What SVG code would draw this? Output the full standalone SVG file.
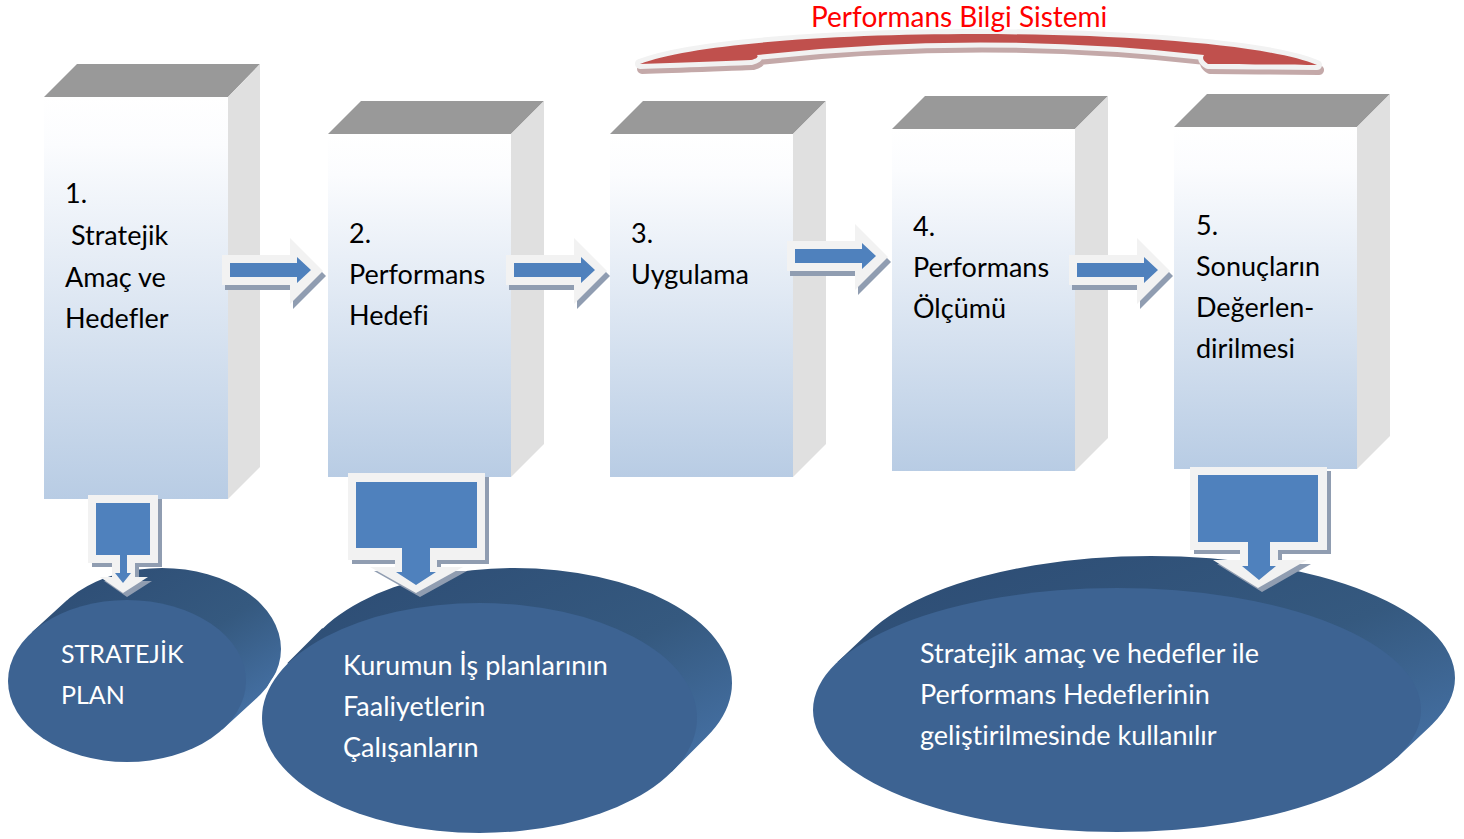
<svg xmlns="http://www.w3.org/2000/svg" width="1464" height="839" viewBox="0 0 1464 839">
<defs>
<linearGradient id="gFront" x1="0" y1="0" x2="0" y2="1">
<stop offset="0" stop-color="#ffffff"/>
<stop offset="0.12" stop-color="#fbfcfe"/>
<stop offset="1" stop-color="#b8cce4"/>
</linearGradient>
<linearGradient id="gBack" x1="0" y1="0" x2="1" y2="1">
<stop offset="0" stop-color="#2c4b73"/>
<stop offset="0.55" stop-color="#35597f"/>
<stop offset="1" stop-color="#4a78b0"/>
</linearGradient>
<style>
text{font-variant-ligatures:none}
.top{fill:#999999}
.side{fill:#e0e0e0}
.front{fill:url(#gFront)}
.lbl{font-family:Lato,"Liberation Sans",sans-serif;font-size:27px;fill:#000000}
.wl{font-family:Lato,"Liberation Sans",sans-serif;font-size:27px;fill:#ffffff}
.ttl{font-family:Lato,"Liberation Sans",sans-serif;font-size:28px;fill:#ff0000}
.aw{fill:#f2f2f2}
.as{fill:#909db1}
.ab{fill:#4f81bd}
.eb{fill:url(#gBack)}
.ef{fill:#3d6392}
.halo{fill:#ffffff;stroke:#ffffff;stroke-width:5}
</style>
<g id="harrow">
<path class="as" transform="translate(3,5)" d="M222,255 H290 V238 L323,271 L290,304 V285 H222 Z"/>
<path class="aw" d="M222,255 H290 V238 L323,271 L290,304 V285 H222 Z"/>
<path class="ab" d="M230,263 H297 V257 L311,270 L297,283 V277 H230 Z"/>
</g>
</defs>

<!-- Top curved ribbon and title -->
<g id="bilgi-sistemi">
<path transform="translate(2,5)" fill="#b89797" stroke="#c4a9a9" stroke-width="10" stroke-linejoin="round" d="M640,64 C740,24 1220,24 1317,65 C1290,65 1240,64 1208,64 C1203,61 1202,58 1204,55 Q980,30 757,55 C759,57 756,59 751,60 C720,61 680,63 640,64 Z"/>
<path fill="#c0504d" stroke="#f2f2f2" stroke-width="10" stroke-linejoin="round" paint-order="stroke" d="M640,64 C740,24 1220,24 1317,65 C1290,65 1240,64 1208,64 C1203,61 1202,58 1204,55 Q980,30 757,55 C759,57 756,59 751,60 C720,61 680,63 640,64 Z"/>
<text class="ttl" x="811" y="27">Performans Bilgi Sistemi</text>
</g>

<!-- Boxes -->
<g id="box1">
<polygon class="top" points="44,97 77,64 260,64 228,97"/>
<polygon class="side" points="228,97 260,64 260,467 228,499"/>
<rect class="front" x="44" y="97" width="184" height="402"/>
<text class="lbl" x="65" y="203">1.</text>
<text class="lbl" x="71" y="245">Stratejik</text>
<text class="lbl" x="65" y="287">Amaç ve</text>
<text class="lbl" x="65" y="328">Hedefler</text>
</g>
<g id="box2">
<polygon class="top" points="328,134 361,101 544,101 511,134"/>
<polygon class="side" points="511,134 544,101 544,444 511,477"/>
<rect class="front" x="328" y="134" width="183" height="343"/>
<text class="lbl" x="349" y="243">2.</text>
<text class="lbl" x="349" y="284">Performans</text>
<text class="lbl" x="349" y="325">Hedefi</text>
</g>
<g id="box3">
<polygon class="top" points="610,134 643,101 826,101 793,134"/>
<polygon class="side" points="793,134 826,101 826,444 793,477"/>
<rect class="front" x="610" y="134" width="183" height="343"/>
<text class="lbl" x="631" y="243">3.</text>
<text class="lbl" x="631" y="284">Uygulama</text>
</g>
<g id="box4">
<polygon class="top" points="892,129 925,96 1108,96 1075,129"/>
<polygon class="side" points="1075,129 1108,96 1108,438 1075,471"/>
<rect class="front" x="892" y="129" width="183" height="342"/>
<text class="lbl" x="913" y="236">4.</text>
<text class="lbl" x="913" y="277">Performans</text>
<text class="lbl" x="913" y="318">Ölçümü</text>
</g>
<g id="box5">
<polygon class="top" points="1174,127 1207,94 1390,94 1357,127"/>
<polygon class="side" points="1357,127 1390,94 1390,436 1357,469"/>
<rect class="front" x="1174" y="127" width="183" height="342"/>
<text class="lbl" x="1196" y="235">5.</text>
<text class="lbl" x="1196" y="276">Sonuçların</text>
<text class="lbl" x="1196" y="317">Değerlen-</text>
<text class="lbl" x="1196" y="358">dirilmesi</text>
</g>

<!-- Ellipses -->
<g id="ellipse1">
<path class="eb" d="M222.4,729.4 L257.4,697.4 L66.6,600.6 L31.6,632.6 Z M43,649 A119,81 0 1,0 281,649 A119,81 0 1,0 43,649 Z"/>
<ellipse class="ef" cx="127" cy="681" rx="119" ry="81"/>
<text class="wl" x="61" y="663" style="font-size:25px">STRATEJİK</text>
<text class="wl" x="61" y="704" style="font-size:25px">PLAN</text>
</g>
<g id="ellipse2">
<path class="halo" d="M671.8,771.75 L706.8,736.75 L322.2,628.25 L287.2,663.25 Z M297,683 A217.5,115 0 1,0 732,683 A217.5,115 0 1,0 297,683 Z"/>
<ellipse class="halo" cx="479.5" cy="718" rx="217.5" ry="115"/>
<path class="eb" d="M671.8,771.75 L706.8,736.75 L322.2,628.25 L287.2,663.25 Z M297,683 A217.5,115 0 1,0 732,683 A217.5,115 0 1,0 297,683 Z"/>
<ellipse class="ef" cx="479.5" cy="718" rx="217.5" ry="115"/>
<text class="wl" x="343" y="675">Kurumun İş planlarının</text>
<text class="wl" x="343" y="716">Faaliyetlerin</text>
<text class="wl" x="343" y="757">Çalışanların</text>
</g>
<g id="ellipse3">
<path class="eb" d="M1396.6,757.9 L1430.6,725.9 L871.4,630.1 L837.4,662.1 Z M847,678 A304,122 0 1,0 1455,678 A304,122 0 1,0 847,678 Z"/>
<ellipse class="ef" cx="1117" cy="710" rx="304" ry="122"/>
<text class="wl" x="920" y="663">Stratejik amaç ve hedefler ile</text>
<text class="wl" x="920" y="704">Performans Hedeflerinin</text>
<text class="wl" x="920" y="745">geliştirilmesinde kullanılır</text>
</g>

<!-- Connectors -->
<g id="connectors">
<use href="#harrow"/>
<use href="#harrow" transform="translate(284,0)"/>
<use href="#harrow" transform="translate(565,-14)"/>
<use href="#harrow" transform="translate(847,0)"/>
<g id="down1">
<path class="as" transform="translate(4,4)" d="M88,495 H158 V563 H135 V577 H148 L123,593 L100,577 H112 V563 H88 Z"/>
<path class="aw" d="M88,495 H158 V563 H135 V577 H148 L123,593 L100,577 H112 V563 H88 Z"/>
<path class="ab" d="M96,503 H150 V555 H127 V573 H131 L123,583 L115,573 H120 V555 H96 Z"/>
</g>
<g id="down2">
<path class="as" transform="translate(4,4)" d="M348,473 H485 V560 H437 V567 H463 L416,593 L370,567 H395 V560 H348 Z"/>
<path class="aw" d="M348,473 H485 V560 H437 V567 H463 L416,593 L370,567 H395 V560 H348 Z"/>
<path class="ab" d="M356,482 H477 V548 H430 V572 H436 L416,585 L396,572 H402 V548 H356 Z"/>
</g>
<g id="down5">
<path class="as" transform="translate(4,4)" d="M1190,467 H1327 V550 H1278 V560 H1307 L1258,588 L1213,560 H1240 V550 H1190 Z"/>
<path class="aw" d="M1190,467 H1327 V550 H1278 V560 H1307 L1258,588 L1213,560 H1240 V550 H1190 Z"/>
<path class="ab" d="M1198,475 H1318 V542 H1270 V566 H1276 L1259,580 L1242,566 H1248 V542 H1198 Z"/>
</g>
</g>
</svg>
